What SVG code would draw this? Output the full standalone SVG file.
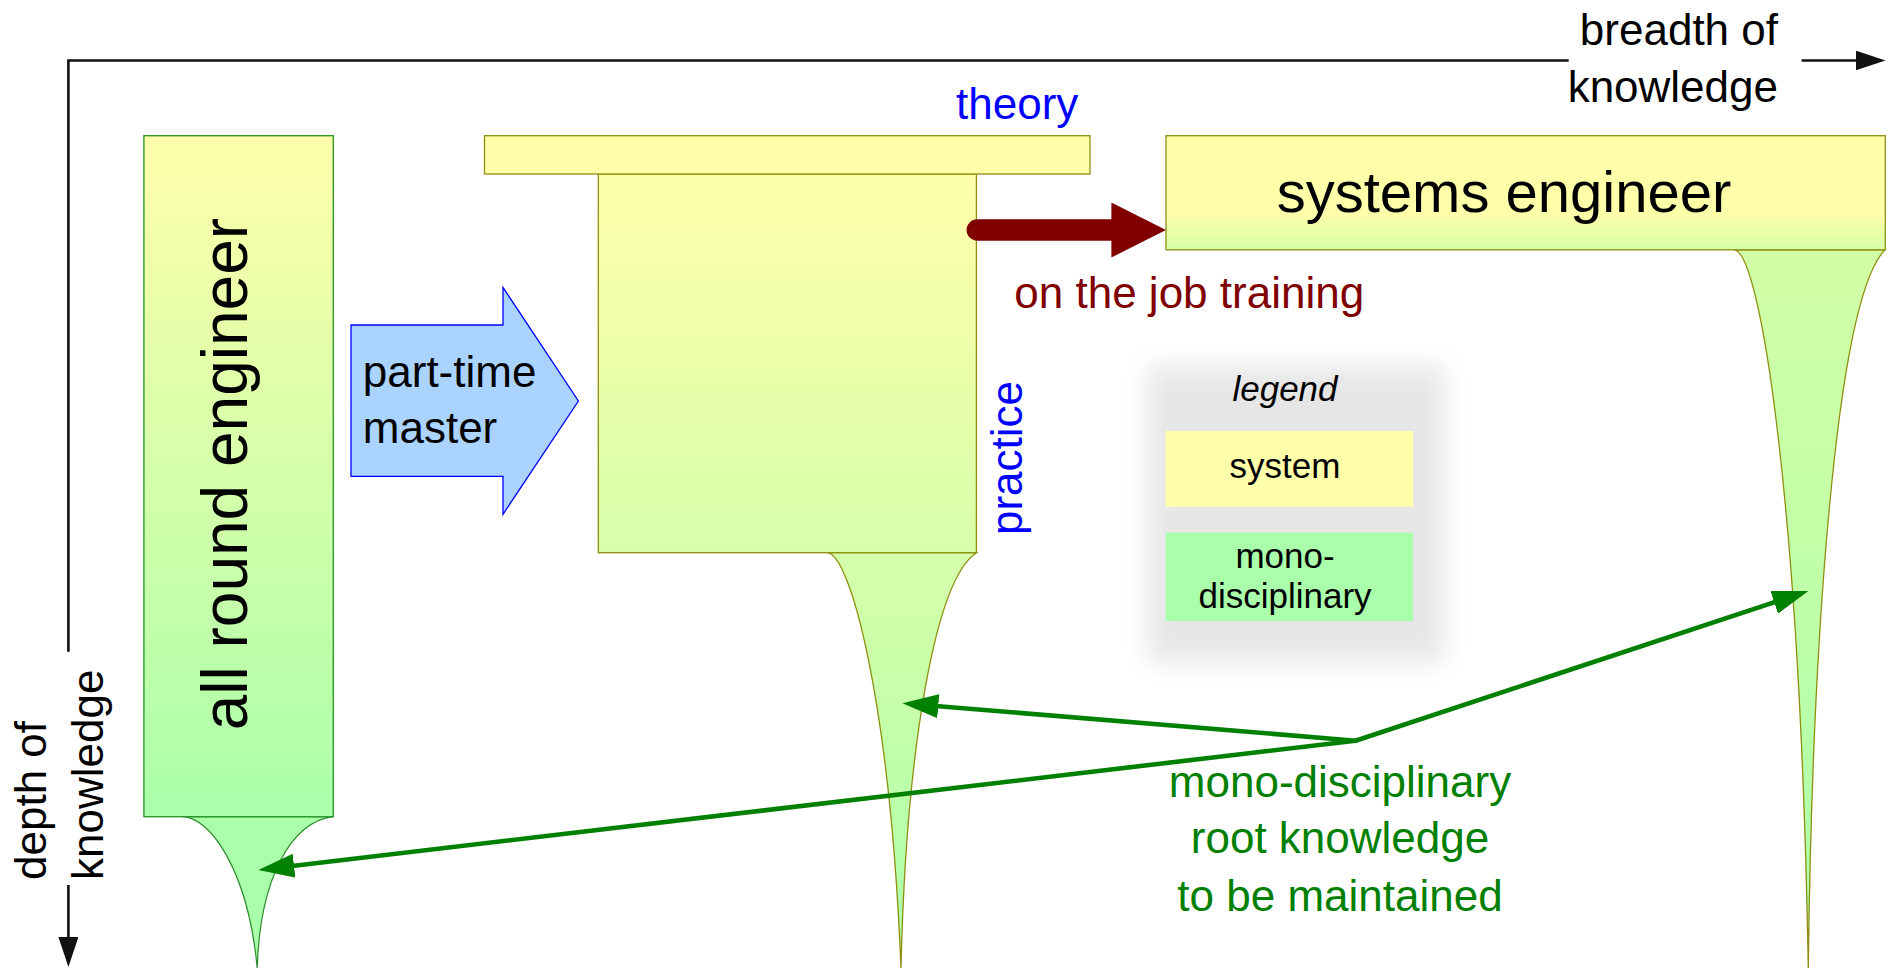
<svg xmlns="http://www.w3.org/2000/svg" width="1897" height="968" viewBox="0 0 1897 968">
<style>
text{font-family:"Liberation Sans",Arial,sans-serif;}
.t44{font-size:44px;}
.t35{font-size:35px;}
.blk{fill:#000;}
.blue{fill:#0000ff;}
.maroon{fill:#800000;}
.grn{fill:#008000;}
.olive{stroke:#8f8f0f;stroke-width:1.3;}
.axis{fill:none;stroke:#111;stroke-width:2.6;}
.garrow{fill:none;stroke:#008000;stroke-width:4.6;stroke-linecap:round;}
</style>
<defs>
<linearGradient id="gAll" x1="0" y1="0" x2="0" y2="1">
<stop offset="0" stop-color="#ffffaa"/>
<stop offset="1" stop-color="#aaffaa"/>
</linearGradient>
<linearGradient id="gPractice" gradientUnits="userSpaceOnUse" x1="0" y1="174" x2="0" y2="968">
<stop offset="0" stop-color="#ffffaa"/>
<stop offset="1" stop-color="#aaffaa"/>
</linearGradient>
<linearGradient id="gSys" x1="0" y1="0" x2="0" y2="1">
<stop offset="0" stop-color="#ffffaa"/>
<stop offset="0.68" stop-color="#ffffaa"/>
<stop offset="1" stop-color="#d6ffa6"/>
</linearGradient>
<linearGradient id="gSysRoot" gradientUnits="userSpaceOnUse" x1="0" y1="250" x2="0" y2="968">
<stop offset="0" stop-color="#d2ffa6"/>
<stop offset="1" stop-color="#aaffaa"/>
</linearGradient>
<filter id="blur" x="-30%" y="-30%" width="160%" height="160%">
<feGaussianBlur stdDeviation="13"/>
</filter>
<marker id="mAxis" markerUnits="userSpaceOnUse" markerWidth="30" markerHeight="20" refX="20" refY="10" orient="auto" viewBox="0 0 30 20">
<path d="M0,0 L30,10 L0,20 Z" fill="#111"/>
</marker>
<marker id="mGreen" markerUnits="userSpaceOnUse" markerWidth="36" markerHeight="24" refX="21" refY="12" orient="auto" viewBox="0 0 36 24">
<path d="M0,0 L36,12 L0,24 Z" fill="#008000"/>
</marker>
<marker id="mMaroon" markerUnits="userSpaceOnUse" markerWidth="55" markerHeight="55" refX="8.6" refY="27.5" orient="auto" viewBox="0 0 55 55">
<path d="M0,0 L54.6,27.5 L0,55 Z" fill="#800000"/>
</marker>
</defs>

<rect width="1897" height="968" fill="#ffffff"/>

<g id="axes">
<polyline class="axis" points="68.4,651.7 68.4,60.5 1568.7,60.5"/>
<line class="axis" x1="1801.6" y1="60.5" x2="1875.5" y2="60.5" marker-end="url(#mAxis)"/>
<line class="axis" x1="68.4" y1="885" x2="68.4" y2="957" marker-end="url(#mAxis)"/>
<text class="t44 blk" text-anchor="end" x="1778" y="45">breadth of</text>
<text class="t44 blk" text-anchor="end" x="1778" y="102">knowledge</text>
<text class="t44 blk" transform="translate(46,880) rotate(-90)">depth of</text>
<text class="t44 blk" transform="translate(103.3,880) rotate(-90)">knowledge</text>
</g>

<g id="legend">
<rect x="1148" y="366" width="296" height="296" fill="#e6e6e6" filter="url(#blur)"/>
<text class="t35 blk" font-style="italic" text-anchor="middle" x="1285" y="401">legend</text>
<rect x="1165.7" y="431" width="247.3" height="75.7" fill="#ffffaa"/>
<text class="t35 blk" text-anchor="middle" x="1285" y="478.3">system</text>
<rect x="1165.7" y="532.7" width="247.3" height="88.3" fill="#aaffaa"/>
<text class="t35 blk" text-anchor="middle" x="1285" y="567.7">mono-</text>
<text class="t35 blk" text-anchor="middle" x="1285" y="608.3">disciplinary</text>
</g>

<g id="all-round-engineer">
<path d="M181.8,816.7 C210,816.7 248,870 257.2,968 C260,880 290,822 333.3,816.7 Z" fill="#aaffaa" stroke="#2a8a2a" stroke-width="1.2"/>
<rect x="143.9" y="135.7" width="189.4" height="681" fill="url(#gAll)" stroke="#2f9a2f" stroke-width="1.4"/>
<text font-size="64" class="blk" text-anchor="middle" transform="translate(246.7,474.1) rotate(-90)">all round engineer</text>
</g>

<g id="part-time-master">
<polygon points="351,325 503,325 503,287.5 578.4,401 503,514.3 503,476.4 351,476.4" fill="#aad4ff" stroke="#0000ff" stroke-width="1.3"/>
<text class="t44 blk" x="362.8" y="386.8">part-time</text>
<text class="t44 blk" x="362.8" y="443">master</text>
</g>

<g id="theory-practice">
<path d="M827,552.7 C850,553 890,700 901,968 C906,750 935,580 976.4,552.7 Z" fill="url(#gPractice)" class="olive"/>
<rect x="598.3" y="174" width="378.1" height="378.7" fill="url(#gPractice)" class="olive"/>
<rect x="484.5" y="135.7" width="605.5" height="38.3" fill="#ffffaa" class="olive"/>
<text class="t44 blue" x="956" y="119.3">theory</text>
<text class="t44 blue" transform="translate(1021.5,535) rotate(-90)">practice</text>
</g>

<g id="systems-engineer">
<path d="M1734,249.8 C1760,250 1800,500 1808.3,968 C1812,650 1835,300 1885,249.8 Z" fill="url(#gSysRoot)" class="olive"/>
<rect x="1166" y="135.7" width="719.3" height="114.1" fill="url(#gSys)" class="olive"/>
<text font-size="58" class="blk" text-anchor="middle" x="1504" y="211.7">systems engineer</text>
</g>

<g id="connectors">
<line x1="977.2" y1="230" x2="1120" y2="230" stroke="#800000" stroke-width="21.3" stroke-linecap="round" marker-end="url(#mMaroon)"/>
<text class="t44 maroon" x="1014.3" y="308">on the job training</text>
<line class="garrow" x1="1355.5" y1="740.7" x2="273.2" y2="868.2" marker-end="url(#mGreen)"/>
<line class="garrow" x1="1355.5" y1="740.7" x2="917.35" y2="704.5" marker-end="url(#mGreen)"/>
<line class="garrow" x1="1355.5" y1="740.7" x2="1794.1" y2="595.7" marker-end="url(#mGreen)"/>
</g>

<g id="root-label">
<text class="t44 grn" text-anchor="middle" x="1340" y="796.7">mono-disciplinary</text>
<text class="t44 grn" text-anchor="middle" x="1340" y="853.3">root knowledge</text>
<text class="t44 grn" text-anchor="middle" x="1340" y="911">to be maintained</text>
</g>
</svg>
